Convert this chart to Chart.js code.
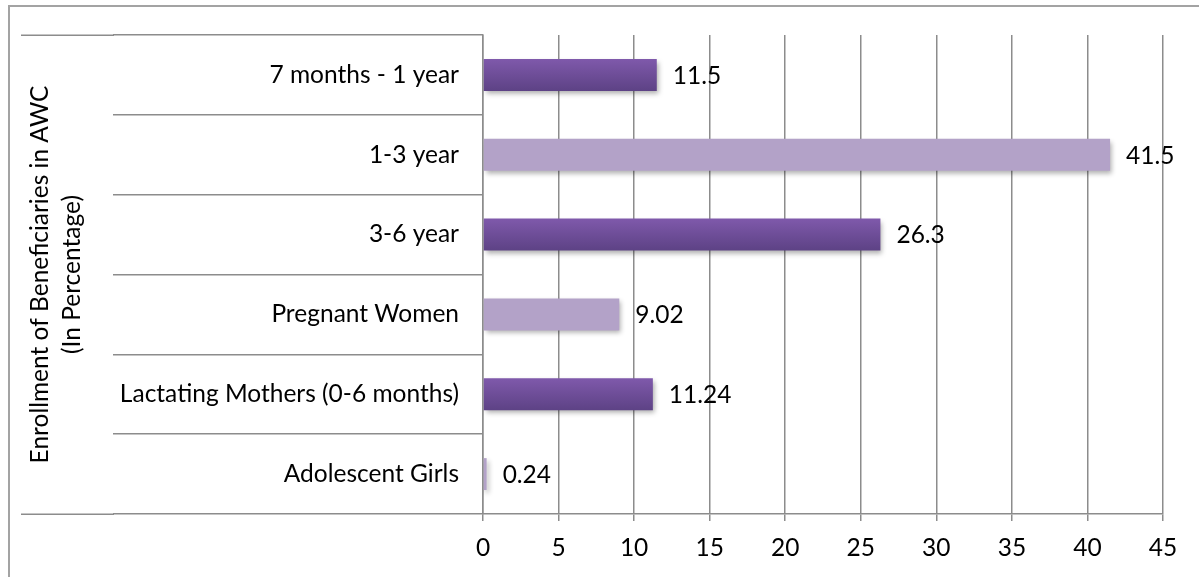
<!DOCTYPE html>
<html>
<head>
<meta charset="utf-8">
<script src="https://cdn.jsdelivr.net/npm/chart.js@4.4.1/dist/chart.umd.min.js"></script>
<style>
  html, body { margin: 0; padding: 0; background: #fff; }
  #wrap { position: relative; width: 1199px; height: 577px; overflow: hidden; }
  #frame { position: absolute; left: 8px; top: 5px; right: -10px; bottom: -10px;
           border-left: 2px solid #a3a3a3; border-top: 2px solid #a3a3a3; pointer-events: none; }
  canvas { position: absolute; left: 0; top: 0; }
</style>
</head>
<body>
<div id="wrap">
  <canvas id="c" width="1199" height="577"></canvas>
  <div id="frame"></div>
</div>
<script>
// Beneficiary groups and their AWC enrollment share (%)
const categories = [
  '7 months - 1 year',
  '1-3 year',
  '3-6 year',
  'Pregnant Women',
  'Lactating Mothers (0-6 months)',
  'Adolescent Girls'
];
const enrollment = [11.5, 41.5, 26.3, 9.02, 11.24, 0.24];
const xTicks = [0, 5, 10, 15, 20, 25, 30, 35, 40, 45];
const axisTitle = ['Enrollment of Beneficiaries in AWC', '(In Percentage)'];

const FONT = { family: 'Lato, "Open Sans", sans-serif', size: 24.5 };
const GRID = '#8c8c8c';
const LIGHT = '#b3a2c8';
const SEP_LEN = 370;   // length of category separator ticks

function darkGradient(ctx) {
  const chart = ctx.chart;
  const ys = chart.scales.y;
  if (!ys || !chart.chartArea) return '#6f4f98';
  const c = ys.getPixelForValue(ctx.dataIndex);
  const step = Math.abs(ys.getPixelForValue(1) - ys.getPixelForValue(0));
  const half = step * 0.4 / 2;
  const g = chart.ctx.createLinearGradient(0, c - half, 0, c + half);
  g.addColorStop(0, '#7f59ab');
  g.addColorStop(1, '#5d4285');
  return g;
}

// soft drop shadow under the bars
const barShadow = {
  id: 'barShadow',
  beforeDatasetsDraw(chart) {
    const ctx = chart.ctx;
    ctx.save();
    ctx.shadowColor = 'rgba(0,0,0,0.32)';
    ctx.shadowBlur = 5;
    ctx.shadowOffsetX = 2;
    ctx.shadowOffsetY = 3;
  },
  afterDatasetsDraw(chart) {
    chart.ctx.restore();
  }
};

// value labels at the end of each bar
const valueLabels = {
  id: 'valueLabels',
  afterDatasetsDraw(chart) {
    const ctx = chart.ctx;
    const meta = chart.getDatasetMeta(0);
    ctx.save();
    ctx.font = `${FONT.size}px ${FONT.family}`;
    ctx.fillStyle = '#000';
    ctx.textAlign = 'left';
    ctx.textBaseline = 'middle';
    meta.data.forEach((el, i) => {
      ctx.fillText(String(enrollment[i]), el.x + 16, el.y + 1);
    });
    ctx.restore();
  }
};

// outermost category separators reach across the axis title band
const outerSeparators = {
  id: 'outerSeparators',
  afterDraw(chart) {
    const ys = chart.scales.y;
    const ctx = chart.ctx;
    const n = categories.length;
    ctx.save();
    ctx.strokeStyle = GRID;
    ctx.lineWidth = 1.5;
    [ys.getPixelForValue(-0.5), ys.getPixelForValue(n - 0.5)].forEach(py => {
      const y = Math.round(py) + 0.25;
      ctx.beginPath();
      ctx.moveTo(ys.left, y);
      ctx.lineTo(ys.right - SEP_LEN + 1, y);
      ctx.stroke();
    });
    ctx.restore();
  }
};

new Chart(document.getElementById('c'), {
  type: 'bar',
  data: {
    labels: categories,
    datasets: [{
      data: enrollment,
      backgroundColor: ctx => (ctx.dataIndex % 2 === 0 ? darkGradient(ctx) : LIGHT),
      borderWidth: 0,
      categoryPercentage: 1,
      barPercentage: 0.4
    }]
  },
  options: {
    indexAxis: 'y',
    responsive: false,
    animation: false,
    devicePixelRatio: 1,
    layout: { padding: { left: 21, top: 35, right: 36, bottom: 0 } },
    plugins: {
      legend: { display: false },
      tooltip: { enabled: false }
    },
    scales: {
      x: {
        min: 0,
        max: 45,
        afterBuildTicks: s => { s.ticks = xTicks.map(v => ({ value: v })); },
        afterFit: s => { s.height = 63; },
        grid: { color: GRID, lineWidth: 1.5, tickLength: 7, tickColor: GRID },
        border: { color: GRID, width: 1.5 },
        ticks: { font: FONT, color: '#000', padding: 12, maxRotation: 0 }
      },
      y: {
        afterFit: s => { s.width = 462; },
        grid: { drawOnChartArea: false, drawTicks: true, tickLength: SEP_LEN,
                color: GRID, lineWidth: 1.5, offset: true },
        border: { color: GRID, width: 1.5 },
        ticks: { font: FONT, color: '#000', padding: 24 - SEP_LEN },
        title: { display: true, text: axisTitle, color: '#000',
                 font: { family: FONT.family, size: 24.5, lineHeight: 1.3 },
                 padding: { top: 3, bottom: 0 } }
      }
    }
  },
  plugins: [barShadow, valueLabels, outerSeparators]
});
</script>
</body>
</html>
